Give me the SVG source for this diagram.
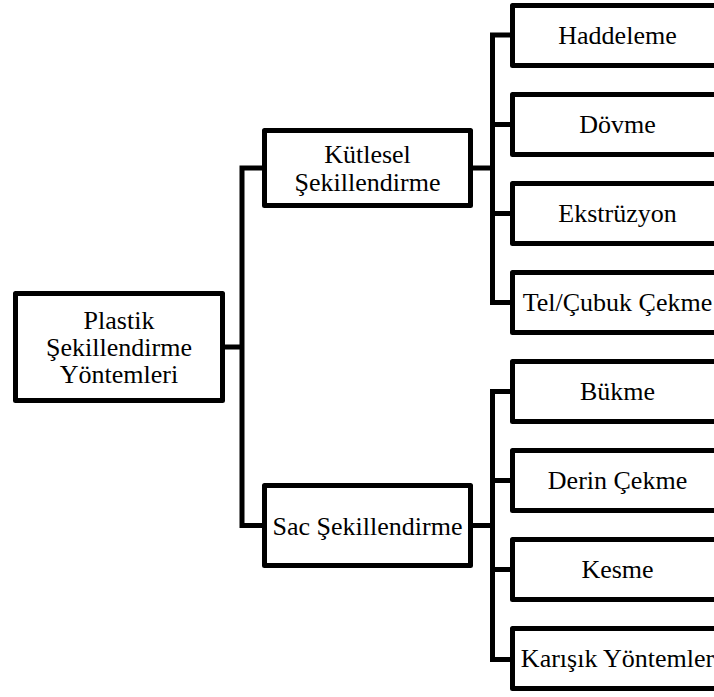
<svg xmlns="http://www.w3.org/2000/svg" width="714" height="697" viewBox="0 0 714 697">
  <style>
    .box { fill: #ffffff; stroke: #000000; stroke-width: 5; stroke-linejoin: round; }
    .link { fill: none; stroke: #000000; stroke-width: 5; stroke-linejoin: miter; stroke-linecap: square; }
    .label { font-family: "Liberation Serif", "Times New Roman", serif; font-size: 26px; fill: #000000; text-anchor: middle; }
  </style>
  <rect width="714" height="697" fill="#ffffff"/>

  <!-- tree connectors -->
  <g id="connectors">
    <!-- root to second level -->
    <path class="link" d="M225 347 H242 M260 168 H242 V525.5 H260"/>
    <!-- Kütlesel branch -->
    <path class="link" d="M473 168 H492.5 M510 35 H492.5 V302.5 H510 M492.5 124.5 H510 M492.5 213.5 H510"/>
    <!-- Sac branch -->
    <path class="link" d="M473 525.5 H492.5 M510 391.5 H492.5 V659.5 H510 M492.5 480.5 H510 M492.5 569.5 H510"/>
  </g>

  <g id="root">
    <rect class="box" x="15.5" y="293.5" width="207" height="107"/>
    <text class="label" x="119" y="329">Plastik</text>
    <text class="label" x="119" y="356">Şekillendirme</text>
    <text class="label" x="119" y="383">Yöntemleri</text>
  </g>

  <g id="kutlesel">
    <rect class="box" x="264.5" y="130.5" width="206" height="75"/>
    <text class="label" x="367.5" y="163">Kütlesel</text>
    <text class="label" x="367.5" y="191">Şekillendirme</text>
  </g>

  <g id="sac">
    <rect class="box" x="264.5" y="485.5" width="206" height="80"/>
    <text class="label" x="367.5" y="534.5">Sac Şekillendirme</text>
  </g>

  <g id="haddeleme">
    <rect class="box" x="512.5" y="5.5" width="215" height="60"/>
    <text class="label" x="617.5" y="43.5">Haddeleme</text>
  </g>
  <g id="dovme">
    <rect class="box" x="512.5" y="94.5" width="215" height="60"/>
    <text class="label" x="617.5" y="133">Dövme</text>
  </g>
  <g id="ekstruzyon">
    <rect class="box" x="512.5" y="183.5" width="215" height="60"/>
    <text class="label" x="617.5" y="222">Ekstrüzyon</text>
  </g>
  <g id="tel-cubuk">
    <rect class="box" x="512.5" y="272.5" width="215" height="60"/>
    <text class="label" x="617.5" y="311">Tel/Çubuk Çekme</text>
  </g>

  <g id="bukme">
    <rect class="box" x="512.5" y="361.5" width="215" height="60"/>
    <text class="label" x="617.5" y="400">Bükme</text>
  </g>
  <g id="derin-cekme">
    <rect class="box" x="512.5" y="450.5" width="215" height="60"/>
    <text class="label" x="617.5" y="489">Derin Çekme</text>
  </g>
  <g id="kesme">
    <rect class="box" x="512.5" y="539.5" width="215" height="60"/>
    <text class="label" x="617.5" y="578">Kesme</text>
  </g>
  <g id="karisik">
    <rect class="box" x="512.5" y="628.5" width="215" height="60"/>
    <text class="label" x="617.5" y="667">Karışık Yöntemler</text>
  </g>
</svg>
